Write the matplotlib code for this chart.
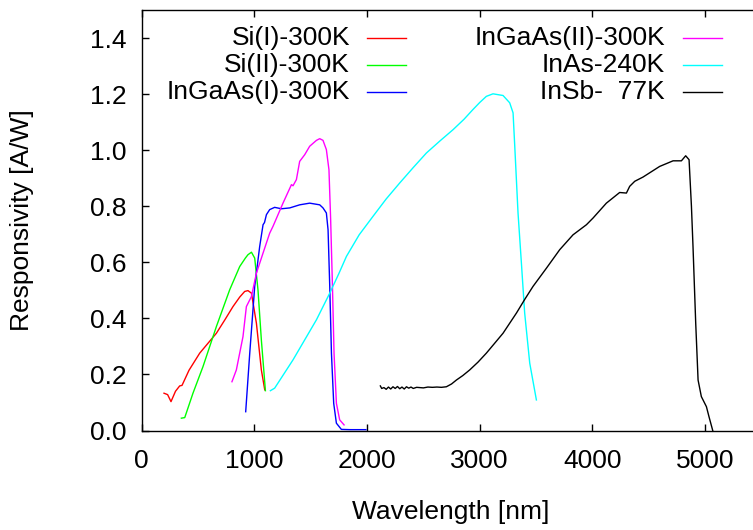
import matplotlib
matplotlib.use("Agg")
import matplotlib.pyplot as plt
import numpy as np

plt.rcParams['font.family'] = ['Liberation Sans', 'DejaVu Sans']

# wavelength [nm] / responsivity [A/W]
si1_x = [198, 230, 260, 300, 337, 358, 420, 515, 590, 663, 740, 810, 870, 914, 943, 974, 1018, 1062, 1092]
si1_y = [0.133, 0.128, 0.103, 0.140, 0.159, 0.161, 0.215, 0.276, 0.312, 0.347, 0.396, 0.442, 0.476, 0.496, 0.499, 0.490, 0.383, 0.216, 0.145]

si2_x = [352, 382, 455, 544, 663, 781, 870, 920, 943, 974, 1003, 1032, 1062, 1098]
si2_y = [0.044, 0.046, 0.133, 0.228, 0.371, 0.502, 0.585, 0.615, 0.627, 0.636, 0.615, 0.502, 0.323, 0.142]

ingaas1_x = [923, 959, 1003, 1047, 1077, 1090, 1107, 1136, 1180, 1240, 1314, 1402, 1491, 1580, 1609, 1639,
             1654, 1669, 1684, 1704, 1728, 1772, 1850, 1990]
ingaas1_y = [0.067, 0.276, 0.514, 0.656, 0.734, 0.742, 0.770, 0.788, 0.796, 0.791, 0.794, 0.805, 0.811, 0.805,
             0.794, 0.776, 0.716, 0.514, 0.276, 0.097, 0.026, 0.004, 0.003, 0.003]

ingaas2_x = [801, 840, 899, 929, 974, 1018, 1077, 1136, 1165, 1254, 1329, 1343, 1373, 1402, 1447, 1491,
             1551, 1580, 1609, 1639, 1662, 1677, 1693, 1707, 1728, 1757, 1796]
ingaas2_y = [0.174, 0.216, 0.335, 0.442, 0.478, 0.561, 0.633, 0.704, 0.728, 0.811, 0.877, 0.873, 0.895, 0.960,
             0.984, 1.014, 1.035, 1.041, 1.035, 1.002, 0.930, 0.752, 0.514, 0.276, 0.097, 0.038, 0.020]

inas_x = [1142, 1180, 1343, 1551, 1669, 1750, 1817, 1930, 2053, 2170, 2290, 2410, 2527, 2650, 2763, 2860,
          2940, 3000, 3059, 3118, 3207, 3266, 3296, 3311, 3340, 3370, 3399, 3444, 3503]
inas_y = [0.142, 0.151, 0.252, 0.395, 0.490, 0.560, 0.621, 0.698, 0.764, 0.826, 0.883, 0.938, 0.990, 1.034,
          1.073, 1.110, 1.145, 1.170, 1.192, 1.201, 1.195, 1.169, 1.133, 1.014, 0.776, 0.597, 0.419, 0.240, 0.109]

insb_x = [2118, 2130, 2150, 2170, 2190, 2210, 2230, 2250, 2270, 2290, 2310, 2330, 2350, 2370, 2390, 2410,
          2440, 2470, 2500, 2540, 2580, 2620, 2660, 2704, 2750, 2793, 2850, 2911, 2985, 3059, 3130, 3207,
          3326, 3400, 3473, 3592, 3710, 3828, 3947, 4006, 4124, 4242, 4302, 4331, 4376, 4449, 4597, 4716,
          4790, 4828, 4858, 4879, 4893, 4917, 4938, 4967, 5012, 5035, 5068]
insb_y = [0.159, 0.150, 0.153, 0.147, 0.155, 0.148, 0.156, 0.150, 0.157, 0.149, 0.155, 0.148, 0.156, 0.151,
          0.155, 0.150, 0.154, 0.153, 0.152, 0.155, 0.154, 0.155, 0.154, 0.156, 0.166, 0.180, 0.196, 0.216,
          0.244, 0.276, 0.310, 0.347, 0.419, 0.468, 0.514, 0.579, 0.645, 0.698, 0.734, 0.758, 0.811, 0.849,
          0.847, 0.871, 0.889, 0.904, 0.942, 0.962, 0.962, 0.980, 0.966, 0.800, 0.656, 0.383, 0.180, 0.121,
          0.085, 0.049, 0.0]

labels = ['Si(I)-300K', 'Si(II)-300K', 'InGaAs(I)-300K', 'InGaAs(II)-300K', 'InAs-240K', 'InSb-  77K']
colors = ['#ff0000', '#00ff00', '#0000ff', '#ff00ff', '#00ffff', '#000000']
series = [(si1_x, si1_y), (si2_x, si2_y), (ingaas1_x, ingaas1_y),
          (ingaas2_x, ingaas2_y), (inas_x, inas_y), (insb_x, insb_y)]

W, H = 753, 530
fig = plt.figure(figsize=(W / 100, H / 100), dpi=100)
# plot box: left 141.7px, top 10px, bottom 430.5px; right border falls off the picture
ax_l, ax_t, ax_b = 141.7, 10.0, 430.5
ax_w = 619.7
ax = fig.add_axes([ax_l / W, 1 - ax_b / H, ax_w / W, (ax_b - ax_t) / H])

for (xs, ys), c in zip(series, colors):
    ax.plot(xs, ys, color=c, lw=1.0)

ax.set_xlim(0, 5500)
ax.set_ylim(0, 1.5)
ax.set_xticks(np.arange(0, 5001, 1000))
ax.set_yticks(np.arange(0, 1.41, 0.2))
ax.yaxis.set_major_formatter(matplotlib.ticker.FormatStrFormatter('%.1f'))
ax.tick_params(axis='both', direction='in', length=5, width=1, labelsize=19, top=True, right=True)
ax.tick_params(axis='x', pad=13)
ax.tick_params(axis='y', pad=11)
for s in ax.spines.values():
    s.set_linewidth(1.0)

ax.set_xlabel('Wavelength [nm]', fontsize=19, va='center')
ax.xaxis.set_label_coords((451 - ax_l) / ax_w, (ax_b - 512) / (ax_b - ax_t))
ax.set_ylabel('Responsivity [A/W]', fontsize=19, va='center')
ax.yaxis.set_label_coords((22 - ax_l) / ax_w, 0.5)

# key in the gnuplot style: right-aligned text, sample line to its right
def px2ax(px, py):
    return (px - ax_l) / ax_w, (ax_b - py) / (ax_b - ax_t)

text_right = [350, 665]
line_span = [(367, 406), (683, 722)]
row_y = [38, 65, 92]
for i, (lab, c) in enumerate(zip(labels, colors)):
    col, row = i // 3, i % 3
    tx, ty = px2ax(text_right[col], row_y[row])
    ax.text(tx, ty, lab, transform=ax.transAxes, ha='right', va='center', fontsize=19)
    x0, y0 = px2ax(line_span[col][0], row_y[row])
    x1, _ = px2ax(line_span[col][1], row_y[row])
    ax.plot([x0, x1], [y0, y0], transform=ax.transAxes, color=c, lw=1.0, clip_on=False)

fig.savefig('out.png', dpi=100)
